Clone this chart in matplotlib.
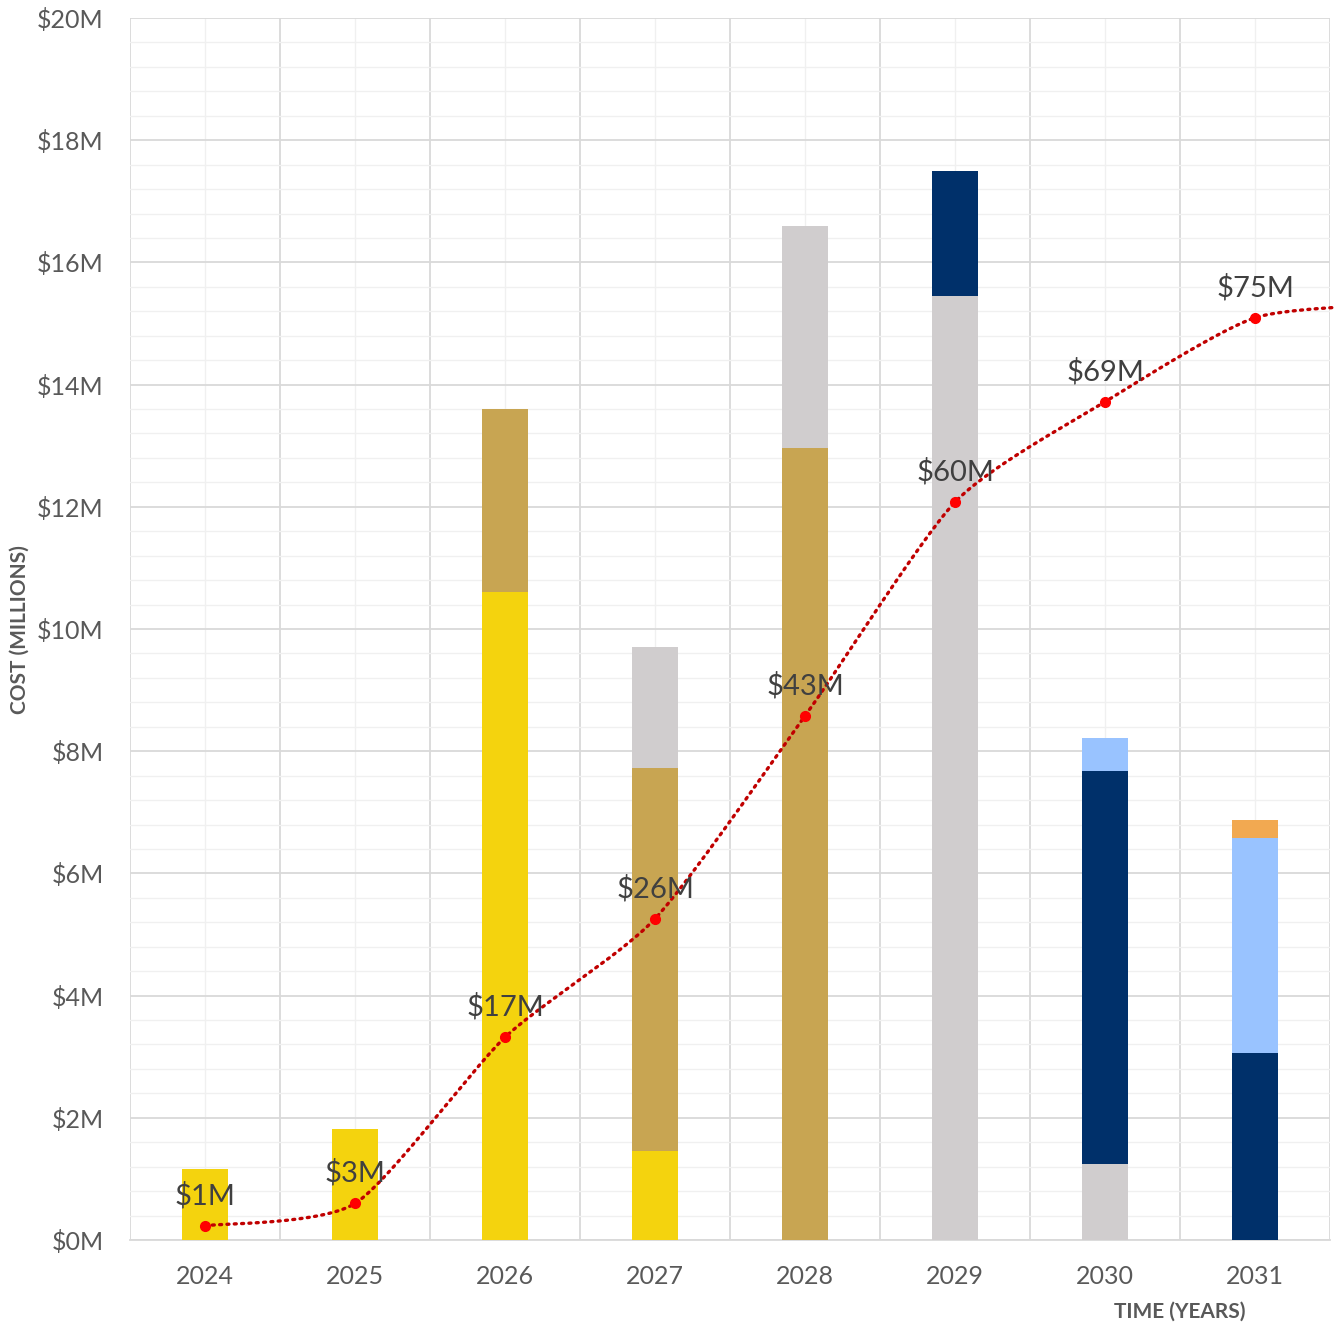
import numpy as np
import matplotlib.pyplot as plt
from matplotlib.ticker import MultipleLocator, FuncFormatter

# ---------------------------------------------------------------------------
# DATA (cost per year, $M)
# ---------------------------------------------------------------------------
years = ["2024", "2025", "2026", "2027", "2028", "2029", "2030", "2031"]

yellow    = [1.17, 1.82, 10.60, 1.45, 0.00, 0.00, 0.00, 0.00]
tan       = [0.00, 0.00, 3.00, 6.27, 12.97, 0.00, 0.00, 0.00]
grey      = [0.00, 0.00, 0.00, 1.98, 3.62, 15.45, 1.25, 0.00]
navy      = [0.00, 0.00, 0.00, 0.00, 0.00, 2.05, 6.43, 3.06]
lightblue = [0.00, 0.00, 0.00, 0.00, 0.00, 0.00, 0.53, 3.52]
orange    = [0.00, 0.00, 0.00, 0.00, 0.00, 0.00, 0.00, 0.30]

# the cumulative line runs on past the last year and is cut by the plot edge
tail_value = 76.6

series = [yellow, tan, grey, navy, lightblue, orange]
colors = ["#F4D30E", "#C8A552", "#D0CDCE", "#00306A", "#99C3FF", "#F2A951"]

# ---------------------------------------------------------------------------

plt.rcParams['font.family'] = ['Lato', 'DejaVu Sans']

fig = plt.figure(figsize=(13.35, 13.25), dpi=100)
ax = fig.add_axes([130 / 1335, 85 / 1325, 1200 / 1335, 1222 / 1325])

x = np.arange(len(years))
bottom = np.zeros(len(years))
for vals, c in zip(series, colors):
    ax.bar(x, vals, width=0.31, bottom=bottom, color=c, zorder=3)
    bottom += np.array(vals)

ax.set_xlim(-0.5, len(years) - 0.5)
ax.set_ylim(0, 20)
ax.yaxis.set_major_locator(MultipleLocator(2))
ax.yaxis.set_minor_locator(MultipleLocator(0.4))
ax.yaxis.set_major_formatter(FuncFormatter(lambda v, p: f"${v:.0f}M"))
ax.set_xticks(x)
ax.set_xticklabels(years)
ax.set_xticks(np.arange(-0.5, len(years)), minor=True)

ax.grid(which='major', axis='y', color='#D9D9D9', lw=1.3, zorder=0)
ax.grid(which='minor', axis='y', color='#F0F0F0', lw=1.0, zorder=0)
ax.grid(which='minor', axis='x', color='#D9D9D9', lw=1.3, zorder=0)
ax.grid(which='major', axis='x', color='#F0F0F0', lw=1.0, zorder=0)

for s in ax.spines.values():
    s.set_visible(False)
ax.spines['bottom'].set_visible(True)
ax.spines['bottom'].set_color('#D9D9D9')
ax.spines['bottom'].set_linewidth(1.3)

ax.tick_params(which='both', length=0)
ax.tick_params(axis='y', labelsize=18, labelcolor='#595959', pad=19)
ax.tick_params(axis='x', labelsize=18, labelcolor='#595959', pad=18)

fig.text(20 / 1335, 1 - 630 / 1325, "COST (MILLIONS)", fontsize=15, fontweight='bold',
         color='#595959', ha='center', va='center', rotation=90)
fig.text(1180 / 1335, 1 - 1312 / 1325, "TIME (YEARS)", fontsize=15, fontweight='bold',
         color='#595959', ha='center', va='center')

# cumulative line on a hidden secondary scale (0-100)
ax2 = ax.twinx()
ax2.set_ylim(0, 100)
ax2.axis('off')

cum = np.cumsum(bottom)
px = np.append(x, len(years)).astype(float)
py = np.append(cum, tail_value)

# smooth the line like a spreadsheet curve (bezier, mild tension)
pts = np.column_stack([px, py])
ext = np.vstack([pts[0], pts, pts[-1]])
k = 1 / 9
cx, cy = [], []
for i in range(1, len(ext) - 2):
    p0, p1, p2, p3 = ext[i - 1], ext[i], ext[i + 1], ext[i + 2]
    c1 = p1 + (p2 - p0) * k
    c2 = p2 - (p3 - p1) * k
    for t in np.linspace(0, 1, 30, endpoint=False):
        q = ((1 - t) ** 3) * p1 + 3 * ((1 - t) ** 2) * t * c1 + 3 * (1 - t) * t * t * c2 + t ** 3 * p2
        cx.append(q[0])
        cy.append(q[1])
cx.append(pts[-1][0])
cy.append(pts[-1][1])

ax2.plot(cx, cy, color='#C00000', lw=2.4, linestyle=(0, (0.6, 1.6)),
         dash_capstyle='round', zorder=5, clip_on=False)
ax2.plot(x, cum, 'o', color='#FF0000', ms=7, zorder=6)

for xi, v in zip(x, cum):
    ax2.annotate(f"${v:.0f}M", (xi, v), xytext=(0, 12), textcoords='offset points',
                 ha='center', va='bottom', fontsize=21, color='#404040', zorder=7)

fig.savefig("out.png", dpi=100)
